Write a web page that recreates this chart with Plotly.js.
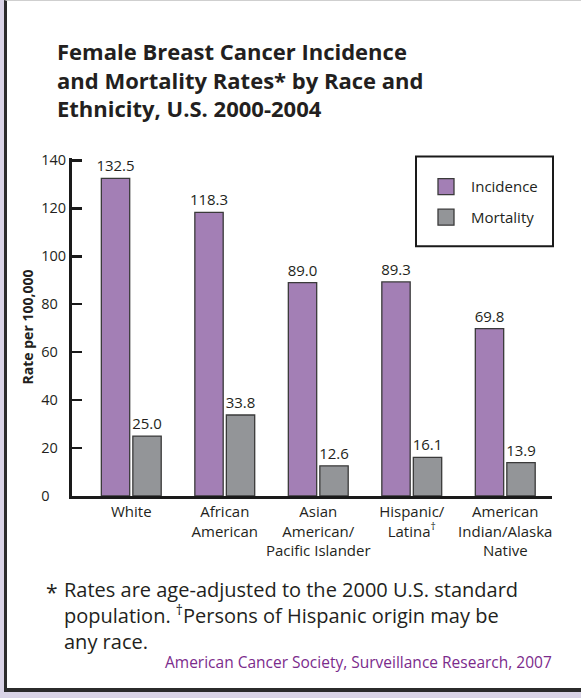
<!DOCTYPE html>
<html>
<head>
<meta charset="utf-8">
<script src="https://cdn.plot.ly/plotly-3.0.1.min.js"></script>
<style>
  html, body { margin: 0; padding: 0; background: #d9d3e6; width: 581px; height: 698px; overflow: hidden; }
  #frame { position: absolute; left: 4px; top: 0; width: 620px; height: 692px; background: #ffffff;
           border-left: 3px solid #2b2b2b; border-bottom: 4px solid #2b2b2b; border-top: 1px solid #cfcfcf; box-sizing: border-box; }
  #chart { position: absolute; left: 0; top: 0; width: 581px; height: 698px; }
</style>
</head>
<body>
<div id="frame"></div>
<div id="chart"></div>
<script>
// ---- data ----
const categories = ["White", "African<br>American", "Asian<br>American/<br>Pacific Islander", "Hispanic/<br>Latina<sup>†</sup>", "American<br>Indian/Alaska<br>Native"];
const incidence = [132.5, 118.3, 89.0, 89.3, 69.8];
const mortality = [25.0, 33.8, 12.6, 16.1, 13.9];
const seriesNames = ["Incidence", "Mortality"];
const yTickVals = [0, 20, 40, 60, 80, 100, 120, 140];
const yTickText = ["0\u2007\u2007", "20\u2007", "40\u2007", "60\u2007", "80\u2007", "100", "120", "140"];

// ---- layout helpers (pixel -> paper) ----
const W = 581, H = 698;
const L = 72, R = 552, T = 157.6, B = 496;
const px = x => (x - L) / (R - L);
const py = y => (B - y) / (B - T);

const purple = "#a37fb5";
const grey = "#939598";
const ink = "#231f20";
const FONT = "'Open Sans', Lato, sans-serif";

const fmt = v => v.toFixed(1);

const traces = [
  {
    type: "bar", x: categories, y: incidence, name: seriesNames[0], showlegend: false,
    marker: { color: purple, line: { color: "#3a3a3a", width: 1.3 } },
    text: incidence.map(fmt), textposition: "outside", constraintext: "none", cliponaxis: false,
    textfont: { family: FONT, size: 15, color: ink }, hoverinfo: "x+y"
  },
  {
    type: "bar", x: categories, y: mortality, name: seriesNames[1], showlegend: false,
    marker: { color: grey, line: { color: "#3a3a3a", width: 1.3 } },
    text: mortality.map(fmt), textposition: "outside", constraintext: "none", cliponaxis: false,
    textfont: { family: FONT, size: 15, color: ink }, hoverinfo: "x+y"
  },
  // legend keys
  {
    type: "scatter", mode: "markers", x: [null], y: [null], name: seriesNames[0], legendgroup: "a",
    marker: { symbol: "square", size: 22, color: purple, line: { color: "#3a3a3a", width: 1.3 } }
  },
  {
    type: "scatter", mode: "markers", x: [null], y: [null], name: seriesNames[1], legendgroup: "b",
    marker: { symbol: "square", size: 22, color: grey, line: { color: "#3a3a3a", width: 1.3 } }
  }
];

const layout = {
  width: W, height: H,
  paper_bgcolor: "rgba(0,0,0,0)", plot_bgcolor: "rgba(0,0,0,0)",
  margin: { l: L, r: W - R, t: T, b: H - B, pad: 0 },
  font: { family: FONT, color: ink },
  title: {
    text: "Female Breast Cancer Incidence<br>and Mortality Rates* by Race and<br>Ethnicity, U.S. 2000-2004",
    font: { family: FONT, size: 22, weight: "bold", color: ink },
    xref: "container", yref: "container", x: 57 / W, xanchor: "left", y: 1 - 60 / H, yanchor: "top"
  },
  barmode: "group", bargap: 0.326, bargroupgap: 0.1,
  xaxis: {
    type: "category", range: [-0.634, 4.5], showline: true, linecolor: "#1a1a1a", linewidth: 3,
    ticks: "", showgrid: false, zeroline: false, fixedrange: true,
    tickfont: { family: FONT, size: 15, color: ink }
  },
  xaxis2: {
    overlaying: "x", anchor: "y", type: "linear", range: [-0.634, 4.5],
    tickvals: [0.5, 1.5, 2.5, 3.5, 4.5], ticks: "inside", ticklen: 7, tickwidth: 2.5, tickcolor: "#1a1a1a",
    showticklabels: false, showline: false, showgrid: false, zeroline: false, side: "bottom"
  },
  yaxis: {
    range: [0, 141], tickvals: yTickVals, ticktext: yTickText,
    showline: true, linecolor: "#1a1a1a", linewidth: 3,
    ticks: "inside", ticklen: 10, tickwidth: 2.5, tickcolor: "#1a1a1a",
    showgrid: false, zeroline: false, fixedrange: true,
    tickfont: { family: FONT, size: 14.5, color: ink },
    title: { text: "Rate per 100,000", font: { family: FONT, size: 14, weight: "bold", color: ink }, standoff: 5 }
  },
  showlegend: true,
  legend: {
    x: px(421), xanchor: "left", y: py(170), yanchor: "top",
    bgcolor: "rgba(0,0,0,0)", borderwidth: 0,
    font: { family: FONT, size: 15, color: ink },
    traceorder: "grouped", tracegroupgap: 8, itemwidth: 40
  },
  shapes: [
    { type: "rect", xref: "paper", yref: "paper", x0: px(416), x1: px(553), y0: py(246), y1: py(156),
      line: { color: "#1a1a1a", width: 2 }, fillcolor: "#ffffff", layer: "below" }
  ],
  annotations: [
    { xref: "paper", yref: "paper", x: px(44), y: py(576), xanchor: "left", yanchor: "top", showarrow: false,
      text: "*", font: { family: FONT, size: 21, color: ink } },
    { xref: "paper", yref: "paper", x: px(62), y: py(574), xanchor: "left", yanchor: "top", showarrow: false, align: "left",
      text: "Rates are age-adjusted to the 2000 U.S. standard<br>population. <sup>†</sup>Persons of Hispanic origin may be<br>any race.",
      font: { family: FONT, size: 20, color: ink } },
    { xref: "paper", yref: "paper", x: px(554), y: py(675), xanchor: "right", yanchor: "bottom", showarrow: false,
      text: "American Cancer Society, Surveillance Research, 2007",
      font: { family: FONT, size: 15.5, color: "#7b2b8c" } }
  ]
};

Plotly.newPlot("chart", traces, layout, { displayModeBar: false, staticPlot: true });
</script>
</body>
</html>
